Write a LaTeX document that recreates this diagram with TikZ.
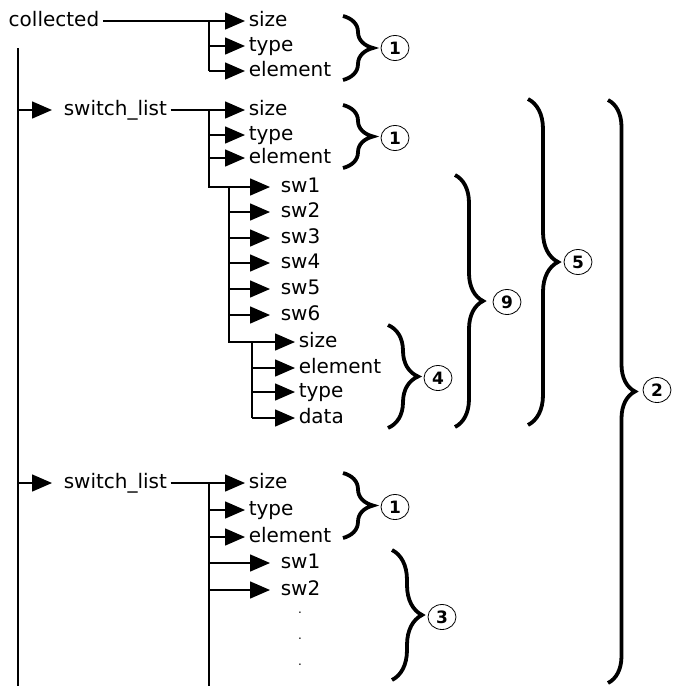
\documentclass[tikz,border=0pt]{standalone}
\usepackage{fontspec}
\setmainfont{DejaVu Sans}
\usetikzlibrary{arrows.meta,decorations.pathreplacing,shapes.geometric}

\begin{document}
\begin{tikzpicture}[x=1pt,y=-1pt,line width=1.5pt,
    field/.style={anchor=west,inner xsep=3pt,inner ysep=0pt,text height=15pt,text depth=4pt,font=\fontsize{20}{24}\selectfont},
    link/.style={-{Triangle[length=20pt,width=17pt]}},
    curly/.style={decorate,decoration={brace,amplitude=#1},line width=3.8pt},
    num/.style={ellipse,draw,line width=0.8pt,minimum width=28pt,minimum height=25pt,inner sep=0pt,font=\bfseries\fontsize{17}{17}\selectfont},
    dot/.style={inner sep=0pt,font=\fontsize{12}{12}\selectfont}]

    \useasboundingbox (0,0) rectangle (673,686);

    % trunk
    \coordinate (trunk) at (18,48);
    \coordinate (trunkend) at (18,686);
    \draw (trunk) -- (trunkend);

    % collected
    \node[field] (col) at (5,21) {collected};
    \coordinate (ja) at (209,21);
    \draw (col) -- (ja) -- (ja |- 0,71);
    \foreach \t/\y/\n in {size/21/a1,type/46/a2,element/71/a3}{
        \node[field] (\n) at (245,\y) {\t};
        \draw[link] (ja |- \n) -- (\n);
    }

    % first switch_list
    \node[field] (sl1) at (60,110) {switch\_list};
    \draw[link,shorten >=8pt] (trunk |- sl1) -- (sl1);
    \coordinate (jb) at (209,110);
    \coordinate (kb) at (229,187);
    \coordinate (lb) at (252,342);
    \draw (sl1) -- (jb);
    \draw (jb) |- (kb) |- (lb) -- (lb |- 0,418);
    \foreach \t/\y/\n in {size/110/b1,type/135/b2,element/158/b3}{
        \node[field] (\n) at (245,\y) {\t};
        \draw[link] (jb |- \n) -- (\n);
    }
    \foreach \i/\y in {1/187,2/212,3/238,4/263,5/289,6/315}{
        \node[field] (sw\i) at (277,\y) {sw\i};
        \draw[link,shorten >=7pt] (kb |- sw\i) -- (sw\i);
    }
    \foreach \t/\y/\n in {size/342/d1,element/368/d2,type/392/d3,data/418/d4}{
        \node[field] (\n) at (295,\y) {\t};
        \draw[link] (lb |- \n) -- (\n);
    }

    % second switch_list
    \node[field] (sl2) at (60,483) {switch\_list};
    \draw[link,shorten >=8pt] (trunk |- sl2) -- (sl2);
    \coordinate (jc) at (209,483);
    \coordinate (jcend) at (209,686);
    \draw (sl2) -- (jc) -- (jcend);
    \foreach \t/\y/\n in {size/483/c1,type/510/c2,element/537/c3}{
        \node[field] (\n) at (245,\y) {\t};
        \draw[link] (jc |- \n) -- (\n);
    }
    \foreach \i/\y in {1/563,2/590}{
        \node[field] (tw\i) at (277,\y) {sw\i};
        \draw[link,shorten >=7pt] (jc |- tw\i) -- (tw\i);
    }
    \foreach \y in {613,639,665}{
        \node[dot] (dot\y) at (300,\y) {.};
    }

    % braces
    \draw[curly=30pt] (343,16) -- (343,80);
    \node[num] (n1a) at (395,48) {1};
    \draw[curly=30pt] (343,105) -- (343,168);
    \node[num] (n1b) at (395,138) {1};
    \draw[curly=30pt] (343,473) -- (343,538);
    \node[num] (n1c) at (395,507) {1};
    \draw[curly=30pt] (388,325) -- (388,428);
    \node[num] (n4) at (438,378) {4};
    \draw[curly=28pt] (455,175) -- (455,427);
    \node[num] (n9) at (507,302) {9};
    \draw[curly=30pt] (528,99) -- (528,425);
    \node[num] (n5) at (578,262) {5};
    \draw[curly=27pt] (608,100) -- (608,683);
    \node[num] (n2) at (657,390) {2};
    \draw[curly=30pt] (392,550) -- (392,680);
    \node[num] (n3) at (442,617) {3};

\end{tikzpicture}
\end{document}
